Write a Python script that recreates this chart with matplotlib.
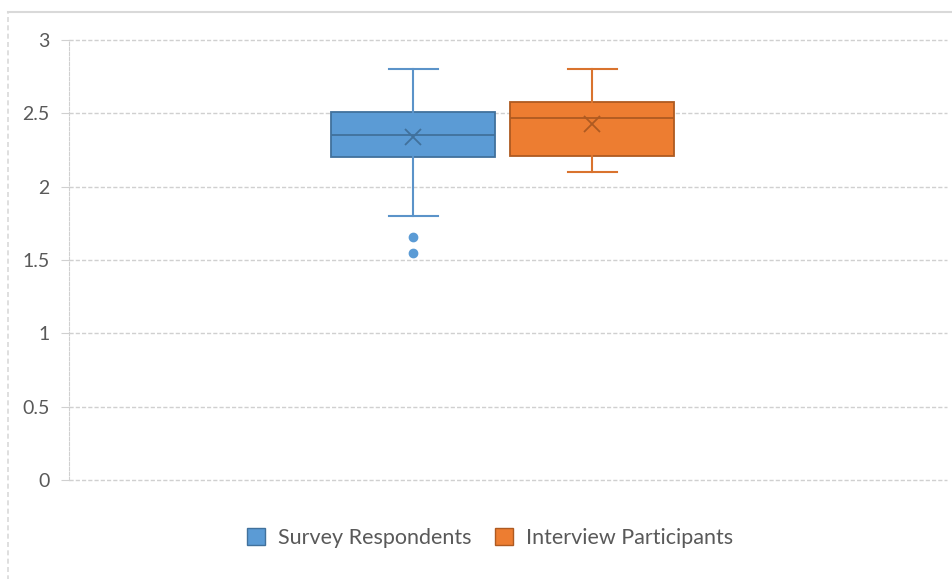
import matplotlib.pyplot as plt
from matplotlib.patches import Patch, Rectangle

# summary statistics per group
groups = ["Survey Respondents", "Interview Participants"]
whisker_low = [1.80, 2.10]
q1 = [2.20, 2.21]
median = [2.35, 2.47]
q3 = [2.51, 2.58]
whisker_high = [2.80, 2.80]
mean = [2.34, 2.43]
outliers = [[1.66, 1.55], []]

fill_colors = ["#5B9BD5", "#ED7D31"]
edge_colors = ["#41719C", "#AE5A21"]
whisker_colors = ["#5B93C9", "#D9732E"]

yticks = [0, 0.5, 1, 1.5, 2, 2.5, 3]
ytick_labels = ["0", "0.5", "1", "1.5", "2", "2.5", "3"]

plt.rcParams['font.family'] = ['Lato', 'DejaVu Sans']

W, H = 952, 579
fig = plt.figure(figsize=(W / 100, H / 100), dpi=100)
ax = fig.add_axes([69 / W, 1 - 480 / H, (947 - 69) / W, (480 - 40) / H])

# chart border
fig.add_artist(Rectangle((8 / W, -0.1), 1.2, 1 - 12 / H + 0.1, transform=fig.transFigure,
                         fill=False, edgecolor="#d9d9d9", linewidth=1.2, linestyle=(0, (3, 2))))
fig.add_artist(plt.Line2D([8 / W, 1], [1 - 12 / H, 1 - 12 / H], transform=fig.transFigure,
                          color="#d9d9d9", linewidth=1.5))

positions = [0.392, 0.596]
width = 0.187

for i in range(len(groups)):
    stats = [dict(med=median[i], q1=q1[i], q3=q3[i], whislo=whisker_low[i],
                  whishi=whisker_high[i], mean=mean[i], fliers=outliers[i])]
    ax.bxp(stats, positions=[positions[i]], widths=width, patch_artist=True,
           showmeans=True, manage_ticks=False,
           boxprops=dict(facecolor=fill_colors[i], edgecolor=edge_colors[i], linewidth=1.3),
           medianprops=dict(color=edge_colors[i], linewidth=1.3),
           whiskerprops=dict(color=whisker_colors[i], linewidth=1.5),
           capprops=dict(color=whisker_colors[i], linewidth=1.5),
           capwidths=width * 0.3,
           meanprops=dict(marker="x", markersize=11, markeredgecolor=edge_colors[i],
                          markeredgewidth=1.3),
           flierprops=dict(marker="o", markersize=6, markerfacecolor=fill_colors[i],
                           markeredgecolor=fill_colors[i]))

ax.set_xlim(0, 1)
ax.set_ylim(0, 3)
ax.set_yticks(yticks)
ax.set_yticklabels(ytick_labels)
ax.set_xticks([])
ax.yaxis.grid(True, color="#d0d0d0", linestyle=(0, (3, 1.5)), linewidth=1)
for gl in ax.get_ygridlines():
    gl.set_clip_on(False)
ax.set_axisbelow(True)
for s in ["top", "right", "bottom"]:
    ax.spines[s].set_visible(False)
ax.spines["left"].set_color("#d0d0d0")
ax.spines["left"].set_linestyle((0, (3, 1.5)))
ax.tick_params(axis="y", length=6, color="#d0d0d0", labelsize=14, labelcolor="#595959", pad=8)

handles = [Patch(facecolor=fill_colors[i], edgecolor=edge_colors[i], label=groups[i])
           for i in range(len(groups))]
fig.legend(handles=handles, loc="center", bbox_to_anchor=(490 / W, 1 - 538 / H), ncol=2,
           frameon=False, fontsize=15.5, labelcolor="#595959", handlelength=0.85,
           handleheight=0.85, handletextpad=0.6, columnspacing=1.1)

fig.savefig("out.png", dpi=100)
